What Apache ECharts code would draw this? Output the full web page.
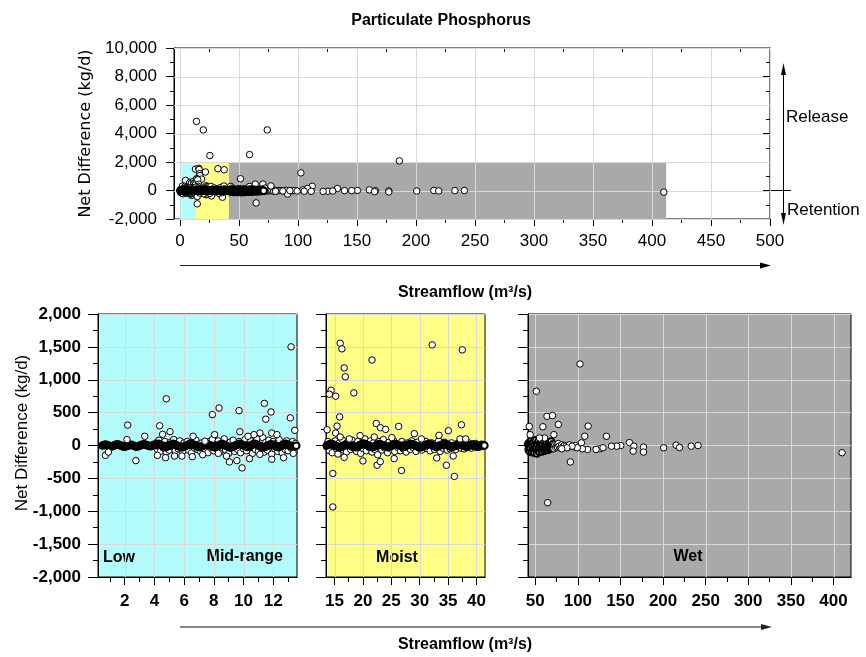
<!DOCTYPE html>
<html>
<head>
<meta charset="utf-8">
<script src="https://cdn.jsdelivr.net/npm/echarts@6.0.0/dist/echarts.min.js"></script>
<style>
  html, body { margin: 0; padding: 0; background: #fff; }
  #main { width: 866px; height: 657px; }
</style>
</head>
<body>
<div id="main"></div>
<script>
// [streamflow m3/s, net difference kg/d]
var lowCore = [
  [0.5,0],[0.6,8],[0.7,15],[0.8,8],[0.9,0],[1.0,-8],[1.1,-15],[1.2,-8],[1.3,0],[1.4,10],
  [1.5,18],[1.6,10],[1.7,2],[1.8,-6],[1.9,-14],[2.0,-20],[2.1,-12],[2.2,-4],[2.3,4],[2.4,12],
  [2.5,6],[2.6,-2],[2.7,-10],[2.8,-18],[2.9,-10],[3.0,-2],[3.1,6],[3.2,14],[3.3,20],[3.4,12],
  [3.5,4],[3.6,-4],[3.7,-12],[3.8,-6],[3.9,2],[4.0,10],
  [4.05,5],[4.15,15],[4.25,25],[4.35,15],[4.45,5],[4.55,-5],[4.65,-15],[4.75,-25],[4.85,-15],[4.95,-5],
  [5.05,5],[5.15,15],[5.25,28],[5.35,18],[5.45,8],[5.55,-2],[5.65,-12],[5.75,-22],[5.85,-30],[5.95,-20],
  [6.05,-10],[6.15,0],[6.25,10],[6.35,20],[6.45,30],[6.55,20],[6.65,10],[6.75,0],[6.85,-10],[6.95,-20],
  [7.05,-28],[7.15,-18],[7.25,-8],[7.35,2],[7.45,12],[7.55,22],[7.65,12],[7.75,2],[7.85,-8],[7.95,-18],
  [8.05,-25],[8.15,-15],[8.25,-5],[8.35,5],[8.45,15],[8.55,25],[8.65,15],[8.75,5],[8.85,-5],[8.95,-15],
  [9.05,-25],[9.15,-30],[9.25,-20],[9.35,-10],[9.45,0],[9.55,10],[9.65,20],[9.75,28],[9.85,18],[9.95,8],
  [10.05,-2],[10.15,-12],[10.25,-22],[10.35,-12],[10.45,-2],[10.55,8],[10.65,18],[10.75,28],[10.85,18],[10.95,8],
  [11.05,-2],[11.15,-12],[11.25,-22],[11.35,-30],[11.45,-20],[11.55,-10],[11.65,0],[11.75,10],[11.85,20],[11.95,12],
  [12.05,2],[12.15,-8],[12.25,-18],[12.35,-25],[12.45,-15],[12.55,-5],[12.65,5],[12.75,15],[12.85,25],[12.95,15],
  [13.05,5],[13.15,-5],[13.25,-15],[13.35,-22],[13.45,-12],[13.55,-2]
];
var lowSpread = [
  [4.1,40],[4.2,-60],[4.3,80],[4.4,-90],[4.5,20],[4.6,-40],[4.7,60],[4.8,-100],[4.9,10],[5.0,-70],
  [5.1,50],[5.2,-20],[5.3,90],[5.4,-80],[5.5,30],[5.6,-50],[5.7,70],[5.8,-10],[5.9,-90],[6.0,40],
  [6.1,-30],[6.2,60],[6.3,-70],[6.4,0],[6.5,-110],[6.6,50],[6.7,-40],[6.8,80],[6.9,-60],[7.0,20],
  [7.1,-90],[7.2,40],[7.3,-20],[7.4,-70],[7.5,30],[7.6,-110],[7.7,60],[7.8,-40],[7.9,90],[8.0,-80],
  [8.1,10],[8.2,-50],[8.3,70],[8.4,-100],[8.5,30],[8.6,-30],[8.7,100],[8.8,-70],[8.9,20],[9.0,-120],
  [9.1,50],[9.2,-40],[9.3,80],[9.4,-90],[9.5,10],[9.6,-60],[9.7,60],[9.8,-110],[9.9,30],[10.0,-50],
  [10.1,90],[10.2,-80],[10.3,20],[10.4,-30],[10.5,70],[10.6,-120],[10.7,40],[10.8,-60],[10.9,100],[11.0,-90],
  [11.1,0],[11.2,-40],[11.3,120],[11.4,-100],[11.5,50],[11.6,-70],[11.7,80],[11.8,-20],[11.9,-130],[12.0,60],
  [12.1,-50],[12.2,30],[12.3,-90],[12.4,90],[12.5,-30],[12.6,-110],[12.7,40],[12.8,-60],[12.9,70],[13.0,-80],
  [13.1,20],[13.2,-40],[13.3,60],[13.4,-100],[13.5,30]
];
var lowScatter = [
  [13.2,1500],[4.8,710],[7.9,470],[8.35,570],[9.7,530],[11.4,640],[11.85,510],[11.5,400],[13.15,420],[13.45,230],
  [2.2,310],[4.35,300],[5.05,210],[4.55,170],[9.75,210],[11.9,190],[12.25,165],[11.1,190],[10.7,165],[10.3,140],
  [6.6,140],[3.35,140],[2.15,90],[7.4,65],[8.05,165],
  [0.7,-150],[0.9,-100],[2.75,-230],[9.9,-340],[9.05,-250],[9.55,-230],[10.4,-200],[11.9,-210],[4.2,-150],[4.75,-185],
  [5.35,-160],[5.85,-160],[6.55,-170],[7.25,-140],[8.3,-120],[8.85,-160],[11.1,-135],[12.7,-185],[13.35,-120]
];

var moistCore = [
  [13.65,0],[13.9,10],[14.15,20],[14.4,28],[14.65,18],[14.9,8],[15.15,-2],[15.4,-12],[15.65,-22],[15.9,-30],
  [16.15,-20],[16.4,-10],[16.65,0],[16.9,10],[17.15,20],[17.4,12],[17.65,4],[17.9,-4],[18.15,-12],[18.4,-20],
  [18.65,-28],[18.9,-18],[19.15,-8],[19.4,2],[19.65,12],[19.9,22],[20.15,30],[20.4,20],[20.65,10],[20.9,0],
  [21.15,-10],[21.4,-20],[21.65,-28],[21.9,-18],[22.15,-8],[22.4,2],[22.65,12],[22.9,22],[23.15,14],[23.4,6],
  [23.65,-2],[23.9,-10],[24.15,-18],[24.4,-26],[24.65,-16],[24.9,-6],[25.15,4],[25.4,14],[25.65,24],[25.9,16],
  [26.15,8],[26.4,0],[26.65,-8],[26.9,-16],[27.15,-24],[27.4,-14],[27.65,-4],[27.9,6],[28.15,16],[28.4,26],
  [28.65,18],[28.9,10],[29.15,2],[29.4,-6],[29.65,-14],[29.9,-22],[30.15,-30],[30.4,-20],[30.65,-10],[30.9,0],
  [31.15,10],[31.4,20],[31.65,28],[31.9,18],[32.15,8],[32.4,-2],[32.65,-12],[32.9,-22],[33.15,-14],[33.4,-6],
  [33.65,2],[33.9,10],[34.15,18],[34.4,26],[34.65,16],[34.9,6],[35.15,-4],[35.4,-14],[35.65,-24],[35.9,-16],
  [36.15,-8],[36.4,0],[36.65,8],[36.9,16],[37.15,24],[37.4,14],[37.65,4],[37.9,-6],[38.15,-16],[38.4,-10],
  [38.65,-4],[38.9,2],[39.15,8],[39.4,14],[39.65,6],[39.9,-2],[40.15,-10],[40.4,-16],[40.65,-8],[40.9,0],
  [41.15,6],[41.4,0]
];
var moistSpread = [
  [13.6,-20],[13.85,60],[14.1,-80],[14.35,30],[14.6,-110],[14.85,0],[15.1,70],[15.35,-50],[15.6,-130],[15.85,40],
  [16.1,-30],[16.35,90],[16.6,-70],[16.85,10],[17.1,-100],[17.35,50],[17.6,-20],[17.85,-60],[18.1,80],[18.35,-40],
  [18.6,20],[18.85,-90],[19.1,60],[19.35,-10],[19.6,-120],[19.85,30],[20.1,-50],[20.35,100],[20.6,-80],[20.85,0],
  [21.1,-30],[21.35,70],[21.6,-100],[21.85,40],[22.1,-60],[22.35,10],[22.6,-140],[22.85,60],[23.1,-20],[23.35,-70],
  [23.6,90],[23.85,-40],[24.1,20],[24.35,-110],[24.6,50],[24.85,-10],[25.1,-60],[25.35,80],[25.6,-90],[25.85,30],
  [26.1,-30],[26.35,0],[26.6,-80],[26.85,60],[27.1,-50],[27.35,20],[27.6,-100],[27.85,40],[28.1,-20],[28.35,-60],
  [28.6,70],[28.85,-30],[29.1,10],[29.35,-90],[29.6,50],[29.85,-40],[30.1,0],[30.35,-70],[30.6,30],[30.85,-20],
  [31.1,60],[31.35,-50],[31.6,20],[31.85,-80],[32.1,40],[32.35,-10],[32.6,-60],[32.85,30],[33.1,-30],[33.35,70],
  [33.6,-90],[33.85,10],[34.1,-40],[34.35,50],[34.6,-20],[34.85,-70],[35.1,20],[35.35,-50],[35.6,40],[35.85,-30],
  [36.1,0],[36.35,-60],[36.6,30],[36.85,-20],[37.1,50],[37.35,-40],[37.6,10],[37.85,-50],[38.1,20],[38.35,-30],
  [38.6,40],[38.85,-10],[39.1,-40],[39.35,20],[39.6,-20],[39.85,30],[40.1,-30],[40.35,10],[40.6,-20],[40.85,20],
  [41.1,-10],[41.35,0]
];
var moistScatter = [
  [16.0,1555],[16.3,1470],[16.7,1180],[16.9,1045],[18.4,800],[21.6,1300],[32.2,1530],[37.5,1455],[14.4,840],[14.1,780],
  [15.2,750],[15.9,435],[15.45,295],[13.7,240],[15.2,190],[16.0,130],[17.6,100],[19.5,150],[22.35,335],[23.1,270],
  [24.0,245],[22.0,130],[25.1,120],[26.3,290],[29.05,180],[30.3,100],[33.4,155],[35.05,225],[37.35,315],[37.1,100],
  [38.1,100],
  [14.7,-425],[14.7,-935],[26.8,-380],[22.5,-300],[23.05,-245],[34.7,-300],[36.1,-470],[33.0,-190],[20.0,-235],[16.7,-180],
  [25.5,-200],[35.9,-160],
  [14.0,4850],[19.8,4250],[25.4,2450]
];

var wetCore = [
  [41.6,20],[42.2,-60],[42.8,40],[43.4,-90],[44,10],[44.6,-40],[45.2,70],[45.8,-100],[46.4,30],[47,-20],
  [47.6,-70],[48.2,50],[48.8,-110],[49.4,0],[50,-50],[50.6,80],[51.2,-30],[51.8,-120],[52.4,20],[53,-80],
  [53.6,60],[54.2,-40],[54.8,-100],[55.4,30],[56,-20],[56.6,-60],[57.2,40],[57.8,-90],[58.4,10],[59,-50],
  [59.6,70],[60.2,-30],[60.8,-80],[61.4,20],[62,-10],[62.6,-60],[63.2,50],[63.8,-40],[64.4,0],[65,-70],
  [65.6,30],[66.2,-20],[66.8,-50],[67.4,10],[68,-30],[68.6,60],[69.2,-10],[69.8,-40],[70.4,20],[71,-20]
];
var wetScatter = [
  [72,-50],[73,10],[74,-30],[75,0],[76,-20],[77,30],[78,-10],[79.5,-40],[81,10],[82.5,-20],
  [84,0],[86,-10],[88,-30],[90,10],[95,-20],[97,0],
  [102.5,1240],[51.3,825],[63.8,445],[70.3,455],[77.1,320],[43,290],[59,285],[112.1,295],[108.1,140],[133.5,140],
  [71.9,165],[44,165],[61,115],[55,115],[104.1,40],[160.5,45],[165.7,-10],[164.9,-85],[177,-25],[177,-100],
  [200.7,-35],[215.2,5],[219.3,-30],[233,-10],[241,0],[150.4,0],[145.6,-10],[139.5,-10],[125.4,-50],[121.4,-60],
  [129.5,-35],[111.3,-60],[105.3,-50],[99.3,-35],[91.2,-250],[93.2,-10],[87.2,-35],[81.1,-50],[64.6,-870],[410,-110],
  [59,2520],[74,4250],[186,2080]
];

// axis ticks
var allTicks = [0, 50, 100, 150, 200, 250, 300, 350, 400, 450, 500];
var allMinor = [25, 75, 125, 175, 225, 275, 325, 375, 425, 475];
var netTicks = [-2000, 0, 2000, 4000, 6000, 8000, 10000];
var netMinor = [-1000, 1000, 3000, 5000, 7000, 9000];
var lowTicks = [2, 4, 6, 8, 10, 12];
var lowMinor = [1, 3, 5, 7, 9, 11, 13];
var moistTicks = [15, 20, 25, 30, 35, 40];
var moistMinor = [17.5, 22.5, 27.5, 32.5, 37.5];
var wetTicks = [50, 100, 150, 200, 250, 300, 350, 400];
var wetMinor = [75, 125, 175, 225, 275, 325, 375];

// flow regime bands in the overview panel
var bandFrom = [0, 13.5, 41.5];
var bandTo = [13.5, 41.5, 412];
var bandLow = -2000, bandHigh = 2000;
var regimeColors = ['#b3fcfc', '#ffff88', '#a9a9a9'];

var FONT = '"Liberation Sans", Arial, sans-serif';
var GRIDC = '#d9d9d9';

function fmt(v) { return v.toLocaleString('en-US'); }

function xTicks(grid, pos, min, max, values, len, inside, label) {
  return {
    type: 'value', gridIndex: grid, position: pos, min: min, max: max,
    axisLine: { show: true, onZero: false, lineStyle: { color: '#000', width: 1 } },
    axisTick: { show: true, customValues: values, length: len, inside: inside, lineStyle: { color: '#000', width: 1 } },
    axisLabel: label ? Object.assign({ customValues: values, hideOverlap: false, color: '#000', fontFamily: FONT }, label) : { show: false },
    splitLine: { show: false }
  };
}

function yBottom(grid, showLabel) {
  return {
    type: 'value', gridIndex: grid, min: -2000, max: 2000, interval: 500,
    axisLine: { show: true, onZero: false, lineStyle: { color: '#000' } },
    axisTick: { length: 10, lineStyle: { color: '#000' } },
    minorTick: { show: true, splitNumber: 2, length: 5, lineStyle: { color: '#000' } },
    axisLabel: { show: showLabel, formatter: fmt, color: '#000', fontFamily: FONT, fontWeight: 'bold', fontSize: 17, margin: 17 },
    splitLine: { show: true, lineStyle: { color: GRIDC, width: 1 } }
  };
}

function vLines(xi, yi, values, z) {
  return {
    type: 'custom', xAxisIndex: xi, yAxisIndex: yi, z: z, silent: true, animation: false,
    data: values.map(function (v) { return [v, 0]; }),
    encode: { x: 0, y: 1 },
    renderItem: function (params, api) {
      var cs = params.coordSys;
      var x = Math.round(api.coord([api.value(0), 0])[0]) + 0.5;
      return { type: 'line', shape: { x1: x, y1: cs.y, x2: x, y2: cs.y + cs.height }, style: { stroke: GRIDC, lineWidth: 1 } };
    }
  };
}

function hLines(xi, yi, values, z) {
  return {
    type: 'custom', xAxisIndex: xi, yAxisIndex: yi, z: z, silent: true, animation: false,
    data: values.map(function (v) { return [0, v]; }),
    encode: { x: 0, y: 1 },
    renderItem: function (params, api) {
      var cs = params.coordSys;
      var y = Math.round(api.coord([0, api.value(1)])[1]) + 0.5;
      return { type: 'line', shape: { x1: cs.x, y1: y, x2: cs.x + cs.width, y2: y }, style: { stroke: GRIDC, lineWidth: 1 } };
    }
  };
}

// open circles; the dense daily cluster near zero overprints into a dark band
function dots(xi, yi, data, z, border) {
  return {
    type: 'scatter', xAxisIndex: xi, yAxisIndex: yi, z: z, data: data, silent: true, animation: false,
    symbol: 'circle', symbolSize: 6.5,
    itemStyle: { color: '#fff', borderColor: '#000', borderWidth: border, opacity: 1 }
  };
}

var allSpread = [].concat(lowSpread, moistSpread);
var allCore = [].concat(lowCore, moistCore, wetCore);
var allScatter = [].concat(lowScatter, moistScatter, wetScatter);
var tickLabelTop = { fontSize: 17, margin: 14 };
var tickLabelBottom = { fontSize: 17, fontWeight: 'bold', margin: 16 };

var chart = echarts.init(document.getElementById('main'));
var option = {
  backgroundColor: '#fff',
  animation: false,
  title: {
    text: 'Particulate Phosphorus', left: 436, top: 8, textAlign: 'center',
    textStyle: { fontFamily: FONT, fontSize: 16, fontWeight: 'bold', color: '#000' }
  },
  grid: [
    { left: 174, top: 48, width: 596, height: 171, show: true, backgroundColor: '#fff', borderColor: '#000', borderWidth: 1 },
    { left: 98, top: 314, width: 199, height: 263, show: true, backgroundColor: regimeColors[0], borderColor: '#000', borderWidth: 1 },
    { left: 326, top: 314, width: 159, height: 263, show: true, backgroundColor: regimeColors[1], borderColor: '#000', borderWidth: 1 },
    { left: 528, top: 314, width: 323, height: 263, show: true, backgroundColor: regimeColors[2], borderColor: '#000', borderWidth: 1 }
  ],
  xAxis: [
    xTicks(0, 'bottom', -5, 500, allTicks, 7, false, tickLabelTop),
    xTicks(0, 'bottom', -5, 500, allMinor, 4, false, null),
    xTicks(0, 'top', -5, 500, allTicks, 7, true, null),
    xTicks(0, 'top', -5, 500, allMinor, 4, true, null),
    xTicks(1, 'bottom', 0.2, 13.6, lowTicks, 8, false, tickLabelBottom),
    xTicks(1, 'bottom', 0.2, 13.6, lowMinor, 5, false, null),
    xTicks(2, 'bottom', 13.5, 41.5, moistTicks, 8, false, tickLabelBottom),
    xTicks(2, 'bottom', 13.5, 41.5, moistMinor, 5, false, null),
    xTicks(3, 'bottom', 41.5, 420.5, wetTicks, 8, false, tickLabelBottom),
    xTicks(3, 'bottom', 41.5, 420.5, wetMinor, 5, false, null)
  ],
  yAxis: [
    {
      type: 'value', gridIndex: 0, position: 'left', min: -2000, max: 10000, interval: 2000,
      axisLine: { show: true, onZero: false, lineStyle: { color: '#000' } },
      axisTick: { length: 8, lineStyle: { color: '#000' } },
      minorTick: { show: true, splitNumber: 2, length: 4, lineStyle: { color: '#000' } },
      axisLabel: { formatter: fmt, color: '#000', fontFamily: FONT, fontSize: 17, margin: 17 },
      splitLine: { show: false },
      name: 'Net Difference (kg/d)', nameLocation: 'middle', nameRotate: 90, nameGap: 72,
      nameTextStyle: { fontFamily: '"DejaVu Sans", Verdana, sans-serif', fontSize: 16, color: '#000' }
    },
    {
      type: 'value', gridIndex: 0, position: 'right', min: -2000, max: 10000, interval: 2000,
      axisLine: { show: true, onZero: false, lineStyle: { color: '#000' } },
      axisTick: { inside: true, length: 7, lineStyle: { color: '#000' } },
      axisLabel: { show: false }, splitLine: { show: false }
    },
    {
      type: 'value', gridIndex: 0, position: 'right', min: -2000, max: 10000,
      axisLine: { show: false, onZero: false },
      axisTick: { inside: true, length: 4, customValues: netMinor, lineStyle: { color: '#000' } },
      axisLabel: { show: false }, splitLine: { show: false }
    },
    yBottom(1, true),
    yBottom(2, false),
    yBottom(3, false)
  ],
  series: [
    {
      type: 'custom', xAxisIndex: 0, yAxisIndex: 0, z: 1, silent: true, animation: false,
      data: bandFrom.map(function (f, i) { return [f, bandTo[i], bandLow, bandHigh]; }),
      encode: { x: [0, 1], y: [2, 3] },
      renderItem: function (params, api) {
        var p0 = api.coord([api.value(0), api.value(3)]);
        var p1 = api.coord([api.value(1), api.value(2)]);
        return { type: 'rect', shape: { x: p0[0], y: p0[1], width: p1[0] - p0[0], height: p1[1] - p0[1] },
          style: { fill: regimeColors[params.dataIndex] } };
      }
    },
    vLines(0, 0, allTicks, 2),
    hLines(0, 0, netTicks, 2),
    dots(0, 0, allSpread, 3, 1),
    dots(0, 0, allScatter, 4, 1),
    dots(0, 0, allCore, 5, 2),
    vLines(4, 3, lowTicks, 1),
    dots(4, 3, lowSpread, 2, 1),
    dots(4, 3, lowCore, 3, 2),
    dots(4, 3, lowScatter, 4, 1),
    vLines(6, 4, moistTicks, 1),
    dots(6, 4, moistSpread, 2, 1),
    dots(6, 4, moistCore, 3, 2),
    dots(6, 4, moistScatter, 4, 1),
    vLines(8, 5, wetTicks, 1),
    dots(8, 5, wetCore, 3, 2),
    dots(8, 5, wetScatter, 4, 1)
  ],
  graphic: [
    // overview: flow arrow and release / retention arrow
    { type: 'line', shape: { x1: 180, y1: 265.5, x2: 762, y2: 265.5 }, style: { stroke: '#222', lineWidth: 1 } },
    { type: 'polygon', shape: { points: [[771, 265.5], [760, 262.5], [760, 268.5]] }, style: { fill: '#000' } },
    { type: 'line', shape: { x1: 783.5, y1: 72, x2: 783.5, y2: 216 }, style: { stroke: '#000', lineWidth: 1 } },
    { type: 'polygon', shape: { points: [[783.5, 63], [781, 75], [786, 75]] }, style: { fill: '#000' } },
    { type: 'polygon', shape: { points: [[783.5, 225], [781, 213], [786, 213]] }, style: { fill: '#000' } },
    { type: 'line', shape: { x1: 771, y1: 190.5, x2: 791, y2: 190.5 }, style: { stroke: '#000', lineWidth: 1 } },
    { type: 'text', x: 786, y: 117, style: { text: 'Release', font: '17px ' + FONT, fill: '#000', textAlign: 'left', textVerticalAlign: 'middle', align: 'left', verticalAlign: 'middle' } },
    { type: 'text', x: 787, y: 210, style: { text: 'Retention', font: '17px ' + FONT, fill: '#000', textAlign: 'left', textVerticalAlign: 'middle', align: 'left', verticalAlign: 'middle' } },
    { type: 'text', x: 465, y: 293, style: { text: 'Streamflow (m\u00b3/s)', font: 'bold 16px ' + FONT, fill: '#000', textAlign: 'center', textVerticalAlign: 'middle', align: 'center', verticalAlign: 'middle' } },
    // regime panels
    { type: 'text', x: 22, y: 433, rotation: Math.PI / 2, style: { text: 'Net Difference (kg/d)', font: '17px ' + FONT, fill: '#000', textAlign: 'center', textVerticalAlign: 'middle', align: 'center', verticalAlign: 'middle' } },
    { type: 'text', x: 103, y: 558, style: { text: 'Low', font: 'bold 16px ' + FONT, fill: '#000', textAlign: 'left', textVerticalAlign: 'middle', align: 'left', verticalAlign: 'middle' } },
    { type: 'text', x: 283, y: 557, style: { text: 'Mid-range', font: 'bold 16px ' + FONT, fill: '#000', textAlign: 'right', textVerticalAlign: 'middle', align: 'right', verticalAlign: 'middle' } },
    { type: 'text', x: 397, y: 558, style: { text: 'Moist', font: 'bold 16px ' + FONT, fill: '#000', textAlign: 'center', textVerticalAlign: 'middle', align: 'center', verticalAlign: 'middle' } },
    { type: 'text', x: 688, y: 557, style: { text: 'Wet', font: 'bold 16px ' + FONT, fill: '#000', textAlign: 'center', textVerticalAlign: 'middle', align: 'center', verticalAlign: 'middle' } },
    { type: 'line', shape: { x1: 180, y1: 627, x2: 762, y2: 627 }, style: { stroke: '#888', lineWidth: 2 } },
    { type: 'polygon', shape: { points: [[772, 627], [761, 624], [761, 630]] }, style: { fill: '#222' } },
    { type: 'text', x: 465, y: 645, style: { text: 'Streamflow (m\u00b3/s)', font: 'bold 16px ' + FONT, fill: '#000', textAlign: 'center', textVerticalAlign: 'middle', align: 'center', verticalAlign: 'middle' } }
  ]
};
chart.setOption(option);
window.onresize = chart.resize;
</script>
</body>
</html>
